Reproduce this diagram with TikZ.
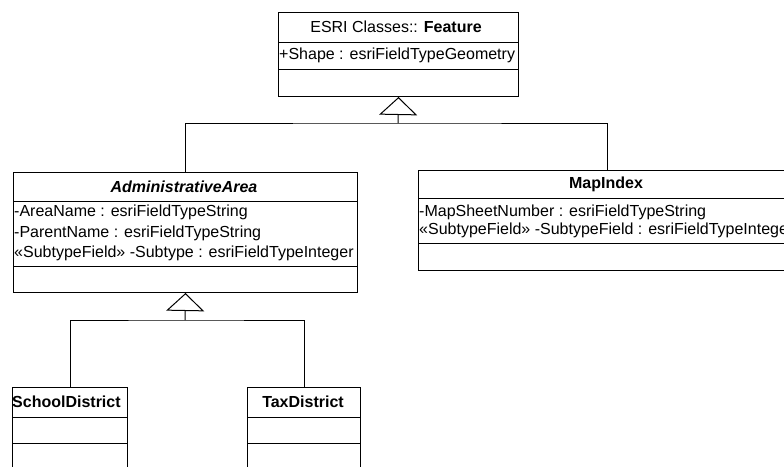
\documentclass[tikz,border=0pt]{standalone}
\usepackage{fontspec}
\setmainfont{Liberation Sans}
\usetikzlibrary{arrows.meta,positioning}
\begin{document}
\fontsize{16}{19}\selectfont
\begin{tikzpicture}[x=1pt, y=-1pt,
    umlbox/.style={draw, line width=1pt, inner sep=0pt, anchor=north west},
    attr/.style={anchor=west, align=left, inner sep=0pt},
    link/.style={line width=1pt},
    gen/.style={link, -{Triangle[fill=white, length=18pt, width=38pt]}}]
    \useasboundingbox (0,0) rectangle (784,466);
    \clip (0,0) rectangle (784,466);

    % Class boxes (pixel layout, y grows downward)
    \node[umlbox, minimum width=240pt, minimum height=84pt] (feature) at (278,12) {};
    \node[umlbox, minimum width=344pt, minimum height=120pt] (admin) at (13,172) {};
    \node[umlbox, minimum width=378pt, minimum height=100pt] (mapidx) at (418,170) {};
    \node[umlbox, minimum width=115pt, minimum height=110pt] (school) at (12,387) {};
    \node[umlbox, minimum width=113pt, minimum height=110pt] (tax) at (247,387) {};

    % Compartment separators
    \foreach \y in {42,69} \draw[link] (feature.west |- 0,\y) -- (feature.east |- 0,\y);
    \foreach \y in {201,266} \draw[link] (admin.west |- 0,\y) -- (admin.east |- 0,\y);
    \foreach \y in {198,243} \draw[link] (mapidx.west |- 0,\y) -- (mapidx.east |- 0,\y);
    \foreach \y in {417,443} {
        \draw[link] (school.west |- 0,\y) -- (school.east |- 0,\y);
        \draw[link] (tax.west |- 0,\y) -- (tax.east |- 0,\y);
    }

    % Names and attributes
    \node (featuretitle) at (396,27) {ESRI Classes:: \textbf{Feature}};
    \node[attr] (featureattr) at (279,55) {+Shape : esriFieldTypeGeometry};
    \node (admintitle) at (184,187) {\textbf{\textit{AdministrativeArea}}};
    \node[attr, font=\fontsize{16}{20.5}\selectfont] (adminattr) at (14,233)
        {-AreaName : esriFieldTypeString\\-ParentName : esriFieldTypeString\\%
         «SubtypeField» -Subtype : esriFieldTypeInteger};
    \node (mapidxtitle) at (606,184) {\textbf{MapIndex}};
    \node[attr, font=\fontsize{16}{18}\selectfont] (mapidxattr) at (419,221)
        {-MapSheetNumber : esriFieldTypeString\\%
         «SubtypeField» -SubtypeField : esriFieldTypeInteger};
    \node[anchor=west, inner sep=0pt] (schooltitle) at (12,402) {\textbf{SchoolDistrict}};
    \node (taxtitle) at (303,402) {\textbf{TaxDistrict}};

    % Generalisation connectors
    \coordinate (j1) at (398,123);
    \coordinate (j2) at (185,320);
    \draw[link] (admin.north) |- (j1) -| (mapidx.north);
    \draw[gen] (j1) -- (feature.south);
    \draw[link] (school.north) |- (j2) -| (tax.north);
    \draw[gen] (j2) -- (admin.south);
\end{tikzpicture}
\end{document}
